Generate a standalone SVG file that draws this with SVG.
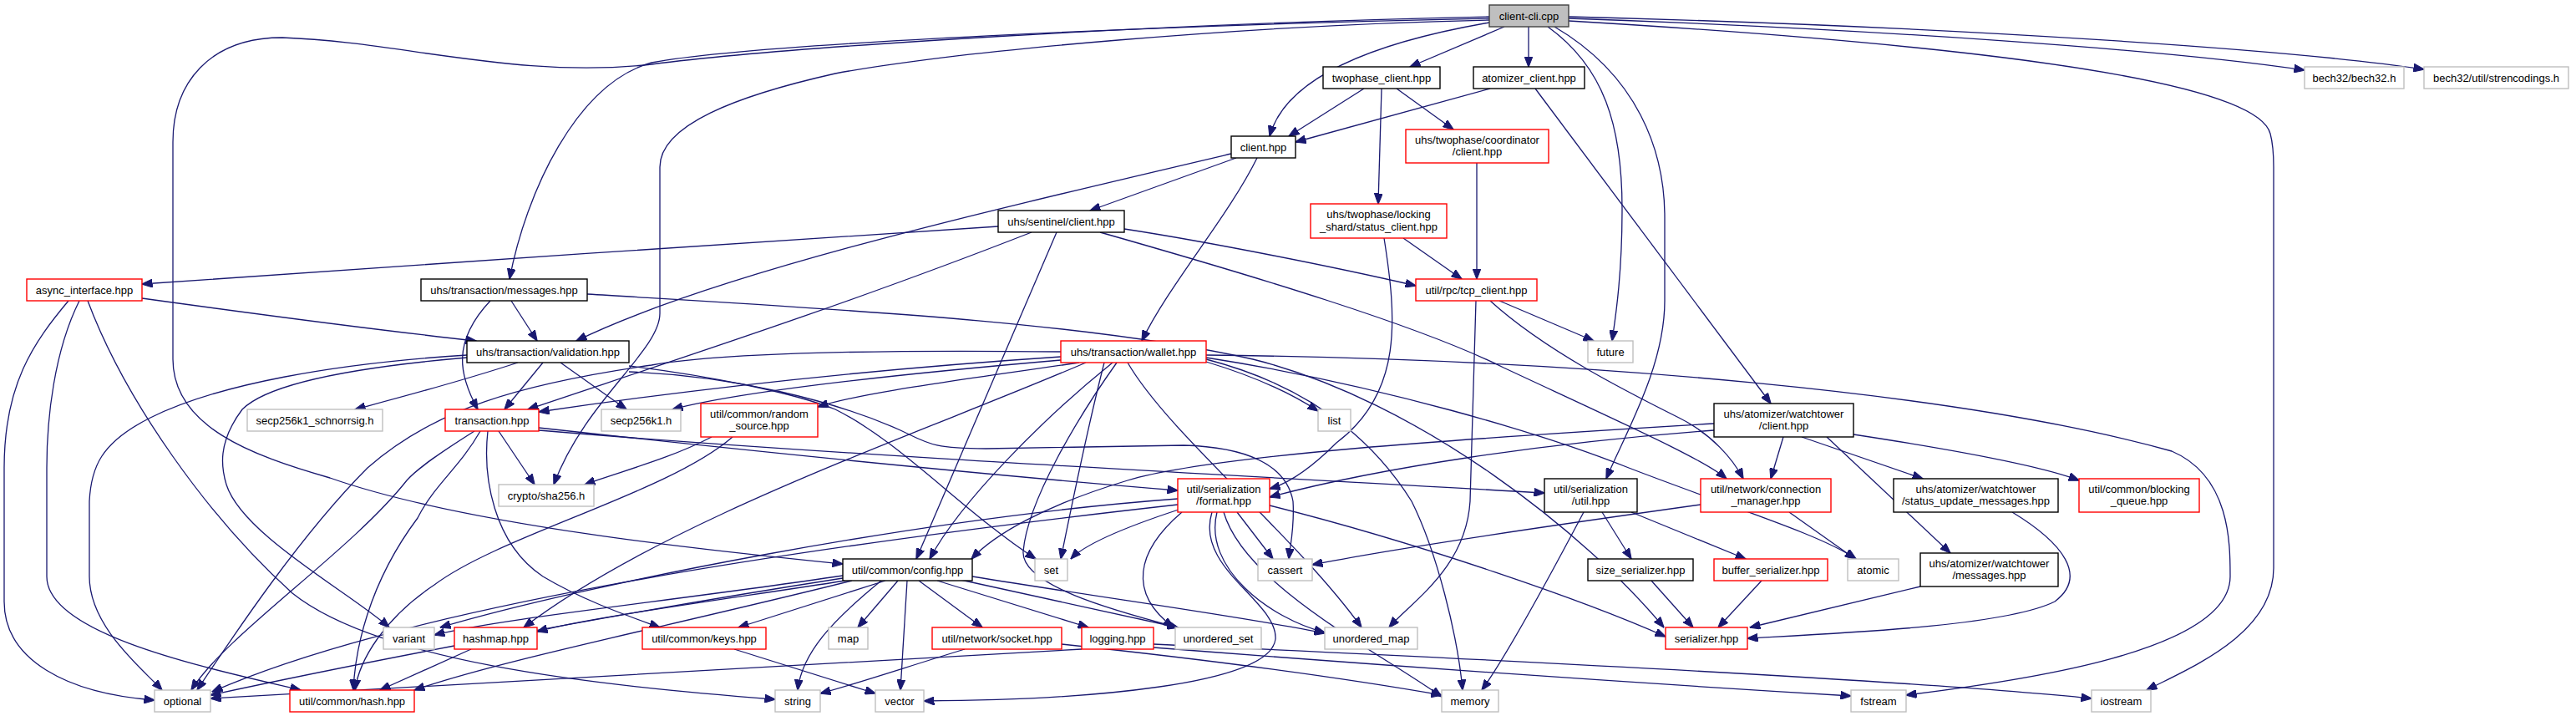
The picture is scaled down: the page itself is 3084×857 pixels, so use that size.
<svg xmlns="http://www.w3.org/2000/svg" width="3084" height="857" viewBox="0 0 3084 857">
<defs>
<style>
rect{fill:#fff;stroke-width:1.4}
.b{stroke:#000}
.r{stroke:#ff0000}
.g{stroke:#bfbfbf}
.m{fill:#bfbfbf;stroke:#404040}
text{font-family:"Liberation Sans",Arial,Helvetica,sans-serif;font-size:13px;text-anchor:middle;fill:#000}
.e path{fill:none;stroke:#191970;stroke-width:1.3;marker-end:url(#a)}
</style>
<marker id="a" markerWidth="13" markerHeight="10" refX="12.5" refY="5" orient="auto" markerUnits="userSpaceOnUse"><path d="M0,0 L13,5 L0,10 z" fill="#191970" stroke="#191970" stroke-width="1"/></marker>
</defs>
<rect x="0" y="0" width="3084" height="857" style="fill:#fff;stroke:none"/>
<g class="e" id="edges">
<path d="M1783,22 C1400,30 900,52 780,75 C690,100 630,230 610,334"/>
<path d="M1801,32 L1688,80"/>
<path d="M1830,32 L1830,80"/>
<path d="M1783,27 C1650,50 1540,90 1520,163"/>
<path d="M1783,20 C1400,28 950,55 780,77 C620,95 480,50 338,45 C250,45 207,100 207,170 L207,430 C207,510 300,545 395,572 C560,630 860,660 1009,675"/>
<path d="M1783,24 C1500,30 1150,60 1000,88 C880,115 790,150 790,200 L790,375 C790,420 700,480 663,580"/>
<path d="M1861,32 C1960,90 1993,180 1993,260 L1993,360 C1993,440 1945,520 1923,573"/>
<path d="M1853,32 C1920,80 1942,150 1942,250 C1942,330 1934,380 1930,408"/>
<path d="M1878,22 C2250,35 2600,60 2759,84"/>
<path d="M1878,20 C2350,32 2750,60 2902,83"/>
<path d="M1878,25 C2300,50 2700,90 2718,160 C2722,175 2722,190 2722,200 L2722,680 C2722,760 2620,800 2570,826"/>
<path d="M1633,106 L1543,163"/>
<path d="M1672,106 L1740,155"/>
<path d="M1654,106 L1650,244"/>
<path d="M1784,106 L1551,170"/>
<path d="M1838,106 L2120,483"/>
<path d="M1480,189 L1305,252"/>
<path d="M1474,184 C1150,260 850,330 690,408"/>
<path d="M1505,189 C1470,260 1400,340 1367,408"/>
<path d="M1768,195 L1768,334"/>
<path d="M1680,285 L1750,334"/>
<path d="M1657,285 C1672,380 1680,470 1600,530 C1570,560 1545,578 1520,585"/>
<path d="M1195,271 C900,290 450,320 170,340"/>
<path d="M1235,278 C1000,370 780,440 632,490"/>
<path d="M1265,278 L1097,669"/>
<path d="M1317,278 C1500,330 1700,390 1800,440 C1950,510 2040,550 2067,573"/>
<path d="M1346,274 C1450,290 1600,320 1695,342"/>
<path d="M170,357 C300,375 450,395 570,408"/>
<path d="M82,360 C40,410 5,460 5,560 L5,720 C5,790 80,830 185,838"/>
<path d="M95,360 C65,420 56,500 56,560 L56,690 C56,760 250,800 360,826"/>
<path d="M105,360 C150,480 250,620 350,710 C450,790 700,820 928,837"/>
<path d="M612,360 L643,408"/>
<path d="M587,360 C540,410 550,450 572,490"/>
<path d="M703,352 C1000,370 1300,385 1500,430 C1700,480 1900,640 1992,751"/>
<path d="M1795,360 L1908,408"/>
<path d="M1767,360 C1765,450 1762,520 1760,600 C1755,680 1690,720 1663,751"/>
<path d="M1784,360 C1850,420 1950,470 2010,500 C2050,520 2075,550 2087,573"/>
<path d="M650,434 L604,490"/>
<path d="M620,434 C540,460 470,478 425,490"/>
<path d="M671,434 L750,490"/>
<path d="M559,425 C400,435 260,460 180,500 C120,530 109,560 107,600 L107,690 C107,750 170,800 194,826"/>
<path d="M559,428 C420,440 320,460 290,490 C260,530 265,560 271,580 C290,640 420,710 466,751"/>
<path d="M753,438 C850,450 950,470 1000,490 C1080,530 1150,610 1240,669"/>
<path d="M753,445 C880,450 1000,480 1078,515 C1110,530 1115,537 1180,537 L1417,533 C1490,535 1540,555 1548,600 C1550,630 1545,650 1543,669"/>
<path d="M1270,427 C1000,445 800,470 645,493"/>
<path d="M1270,431 C1050,450 880,470 805,490"/>
<path d="M1292,434 C1150,455 1030,470 979,487"/>
<path d="M1270,421 C1000,418 850,425 780,437 C620,460 520,490 440,560 C360,640 280,760 236,826"/>
<path d="M1444,433 C1500,450 1545,470 1578,492"/>
<path d="M1444,428 C1650,460 1850,520 1950,560 C2080,610 2180,640 2222,669"/>
<path d="M1444,430 C1560,460 1640,520 1690,600 C1720,660 1745,760 1751,826"/>
<path d="M1444,425 C1900,430 2350,470 2600,540 C2670,570 2670,650 2670,690 C2670,780 2420,815 2282,832"/>
<path d="M1332,434 C1250,500 1150,600 1113,669"/>
<path d="M1322,434 C1300,520 1280,620 1270,669"/>
<path d="M1350,434 C1400,520 1550,640 1630,751"/>
<path d="M1300,434 C1100,520 800,620 627,751"/>
<path d="M1337,434 C1290,500 1230,600 1225,660 C1222,700 1330,730 1410,751"/>
<path d="M597,516 L640,580"/>
<path d="M568,516 C530,540 500,560 487,575 C420,660 270,760 229,826"/>
<path d="M575,516 C550,560 520,580 500,620 C440,700 425,780 423,826"/>
<path d="M584,516 C578,570 590,650 650,690 C700,720 760,740 790,751"/>
<path d="M645,512 C900,540 1200,570 1410,587"/>
<path d="M645,515 C1000,545 1500,570 1849,590"/>
<path d="M852,523 C800,550 740,565 700,580"/>
<path d="M877,523 C800,590 600,640 520,700 C460,740 430,790 425,826"/>
<path d="M2135,523 L2120,573"/>
<path d="M2157,523 L2302,573"/>
<path d="M2187,523 L2335,662"/>
<path d="M2219,520 C2350,540 2450,560 2489,575"/>
<path d="M2052,507 C1750,525 1450,545 1350,575 C1250,605 1190,640 1163,669"/>
<path d="M2052,515 C1850,530 1650,560 1520,595"/>
<path d="M1410,597 C1100,620 700,700 527,751"/>
<path d="M1410,604 C1000,650 500,720 254,828"/>
<path d="M1411,610 C1350,630 1300,650 1282,669"/>
<path d="M1481,613 L1524,669"/>
<path d="M1415,613 C1360,660 1350,710 1405,751"/>
<path d="M1457,613 C1440,680 1520,740 1586,757"/>
<path d="M1451,613 C1430,680 1530,720 1527,765 C1520,820 1300,838 1106,839"/>
<path d="M1465,613 C1490,700 1650,780 1726,834"/>
<path d="M1520,605 C1700,650 1900,720 1994,762"/>
<path d="M1009,689 C800,720 600,740 520,760"/>
<path d="M1009,692 C700,740 400,800 252,832"/>
<path d="M1012,695 C850,720 700,740 643,756"/>
<path d="M1020,695 C800,750 600,790 496,826"/>
<path d="M1060,695 L884,751"/>
<path d="M1075,695 L1027,751"/>
<path d="M1055,695 C1000,740 960,780 955,826"/>
<path d="M1086,695 L1078,826"/>
<path d="M1100,695 L1176,751"/>
<path d="M1122,695 L1303,751"/>
<path d="M1150,694 L1410,751"/>
<path d="M1164,690 C1350,720 1500,740 1586,758"/>
<path d="M879,777 L1048,830"/>
<path d="M564,777 L455,826"/>
<path d="M1155,777 C1080,800 1020,820 982,830"/>
<path d="M1271,771 C1450,790 1600,810 1726,832"/>
<path d="M1295,777 C900,800 500,820 252,836"/>
<path d="M1381,775 C1700,800 2000,820 2216,833"/>
<path d="M1381,771 C1800,790 2300,815 2504,836"/>
<path d="M2036,604 C1850,630 1650,660 1571,676"/>
<path d="M2142,613 L2221,669"/>
<path d="M1896,613 C1850,700 1800,790 1774,826"/>
<path d="M1918,613 L1953,669"/>
<path d="M1953,613 L2090,669"/>
<path d="M1977,695 L2027,751"/>
<path d="M2109,695 L2057,751"/>
<path d="M2409,613 C2470,650 2500,690 2460,720 C2400,750 2200,758 2092,764"/>
<path d="M2299,702 L2095,751"/>
</g>
<g id="n_cli"><rect class="m" x="1783" y="6" width="95" height="26"/><text x="1830.5" y="23.5">client-cli.cpp</text></g>
<g id="n_two"><rect class="b" x="1584" y="80" width="140" height="26"/><text x="1654" y="97.5">twophase_client.hpp</text></g>
<g id="n_atom"><rect class="b" x="1764" y="80" width="133" height="26"/><text x="1830.5" y="97.5">atomizer_client.hpp</text></g>
<g id="n_b32"><rect class="g" x="2759" y="80" width="119" height="26"/><text x="2818.5" y="97.5">bech32/bech32.h</text></g>
<g id="n_strc"><rect class="g" x="2902" y="80" width="173" height="26"/><text x="2988.5" y="97.5">bech32/util/strencodings.h</text></g>
<g id="n_cl"><rect class="b" x="1474" y="163" width="77" height="26"/><text x="1512.5" y="180.5">client.hpp</text></g>
<g id="n_coord"><rect class="r" x="1683" y="155" width="171" height="40"/><text x="1768.5" y="171.7">uhs/twophase/coordinator</text><text x="1768.5" y="186">/client.hpp</text></g>
<g id="n_lock"><rect class="r" x="1569" y="244" width="163" height="41"/><text x="1650.5" y="261">uhs/twophase/locking</text><text x="1650.5" y="275.5">_shard/status_client.hpp</text></g>
<g id="n_sent"><rect class="b" x="1195" y="252" width="151" height="26"/><text x="1270.5" y="269.5">uhs/sentinel/client.hpp</text></g>
<g id="n_async"><rect class="r" x="32" y="334" width="138" height="26"/><text x="101" y="351.5">async_interface.hpp</text></g>
<g id="n_msg"><rect class="b" x="504" y="334" width="199" height="26"/><text x="603.5" y="351.5">uhs/transaction/messages.hpp</text></g>
<g id="n_tcp"><rect class="r" x="1695" y="334" width="145" height="26"/><text x="1767.5" y="351.5">util/rpc/tcp_client.hpp</text></g>
<g id="n_val"><rect class="b" x="559" y="408" width="194" height="26"/><text x="656" y="425.5">uhs/transaction/validation.hpp</text></g>
<g id="n_wal"><rect class="r" x="1270" y="408" width="174" height="26"/><text x="1357" y="425.5">uhs/transaction/wallet.hpp</text></g>
<g id="n_fut"><rect class="g" x="1901" y="408" width="54" height="26"/><text x="1928" y="425.5">future</text></g>
<g id="n_schn"><rect class="g" x="296" y="490" width="162" height="26"/><text x="377" y="507.5">secp256k1_schnorrsig.h</text></g>
<g id="n_tx"><rect class="r" x="533" y="490" width="112" height="26"/><text x="589" y="507.5">transaction.hpp</text></g>
<g id="n_secp"><rect class="g" x="720" y="490" width="95" height="26"/><text x="767.5" y="507.5">secp256k1.h</text></g>
<g id="n_rand"><rect class="r" x="839" y="483" width="140" height="40"/><text x="909" y="499.7">util/common/random</text><text x="909" y="514">_source.hpp</text></g>
<g id="n_list"><rect class="g" x="1578" y="490" width="39" height="26"/><text x="1597.5" y="507.5">list</text></g>
<g id="n_wtc"><rect class="b" x="2052" y="483" width="167" height="40"/><text x="2135.5" y="499.7">uhs/atomizer/watchtower</text><text x="2135.5" y="514">/client.hpp</text></g>
<g id="n_sha"><rect class="g" x="597" y="580" width="114" height="26"/><text x="654" y="597.5">crypto/sha256.h</text></g>
<g id="n_fmt"><rect class="r" x="1410" y="573" width="110" height="40"/><text x="1465" y="589.7">util/serialization</text><text x="1465" y="604">/format.hpp</text></g>
<g id="n_util"><rect class="b" x="1849" y="573" width="111" height="40"/><text x="1904.5" y="589.7">util/serialization</text><text x="1904.5" y="604">/util.hpp</text></g>
<g id="n_conn"><rect class="r" x="2036" y="573" width="156" height="40"/><text x="2114" y="589.7">util/network/connection</text><text x="2114" y="604">_manager.hpp</text></g>
<g id="n_sum"><rect class="b" x="2267" y="573" width="197" height="40"/><text x="2365.5" y="589.7">uhs/atomizer/watchtower</text><text x="2365.5" y="604">/status_update_messages.hpp</text></g>
<g id="n_bq"><rect class="r" x="2489" y="573" width="144" height="40"/><text x="2561" y="589.7">util/common/blocking</text><text x="2561" y="604">_queue.hpp</text></g>
<g id="n_cfg"><rect class="b" x="1009" y="669" width="155" height="26"/><text x="1086.5" y="686.5">util/common/config.hpp</text></g>
<g id="n_set"><rect class="g" x="1239" y="669" width="39" height="26"/><text x="1258.5" y="686.5">set</text></g>
<g id="n_cas"><rect class="g" x="1506" y="669" width="65" height="26"/><text x="1538.5" y="686.5">cassert</text></g>
<g id="n_size"><rect class="b" x="1901" y="669" width="126" height="26"/><text x="1964" y="686.5">size_serializer.hpp</text></g>
<g id="n_buf"><rect class="r" x="2052" y="669" width="136" height="26"/><text x="2120" y="686.5">buffer_serializer.hpp</text></g>
<g id="n_atomic"><rect class="g" x="2212" y="669" width="61" height="26"/><text x="2242.5" y="686.5">atomic</text></g>
<g id="n_wmsg"><rect class="b" x="2299" y="662" width="165" height="40"/><text x="2381.5" y="678.7">uhs/atomizer/watchtower</text><text x="2381.5" y="693">/messages.hpp</text></g>
<g id="n_var"><rect class="g" x="459" y="751" width="61" height="26"/><text x="489.5" y="768.5">variant</text></g>
<g id="n_hmap"><rect class="r" x="544" y="751" width="99" height="26"/><text x="593.5" y="768.5">hashmap.hpp</text></g>
<g id="n_keys"><rect class="r" x="769" y="751" width="148" height="26"/><text x="843" y="768.5">util/common/keys.hpp</text></g>
<g id="n_map"><rect class="g" x="992" y="751" width="47" height="26"/><text x="1015.5" y="768.5">map</text></g>
<g id="n_sock"><rect class="r" x="1116" y="751" width="155" height="26"/><text x="1193.5" y="768.5">util/network/socket.hpp</text></g>
<g id="n_log"><rect class="r" x="1295" y="751" width="86" height="26"/><text x="1338" y="768.5">logging.hpp</text></g>
<g id="n_uset"><rect class="g" x="1407" y="751" width="103" height="26"/><text x="1458.5" y="768.5">unordered_set</text></g>
<g id="n_umap"><rect class="g" x="1586" y="751" width="111" height="26"/><text x="1641.5" y="768.5">unordered_map</text></g>
<g id="n_ser"><rect class="r" x="1994" y="751" width="98" height="26"/><text x="2043" y="768.5">serializer.hpp</text></g>
<g id="n_opt"><rect class="g" x="185" y="826" width="67" height="26"/><text x="218.5" y="843.5">optional</text></g>
<g id="n_hash"><rect class="r" x="347" y="826" width="149" height="26"/><text x="421.5" y="843.5">util/common/hash.hpp</text></g>
<g id="n_str"><rect class="g" x="928" y="826" width="54" height="26"/><text x="955" y="843.5">string</text></g>
<g id="n_vec"><rect class="g" x="1048" y="826" width="58" height="26"/><text x="1077" y="843.5">vector</text></g>
<g id="n_mem"><rect class="g" x="1726" y="826" width="68" height="26"/><text x="1760" y="843.5">memory</text></g>
<g id="n_fst"><rect class="g" x="2216" y="826" width="66" height="26"/><text x="2249" y="843.5">fstream</text></g>
<g id="n_ios"><rect class="g" x="2504" y="826" width="71" height="26"/><text x="2539.5" y="843.5">iostream</text></g>
</svg>
